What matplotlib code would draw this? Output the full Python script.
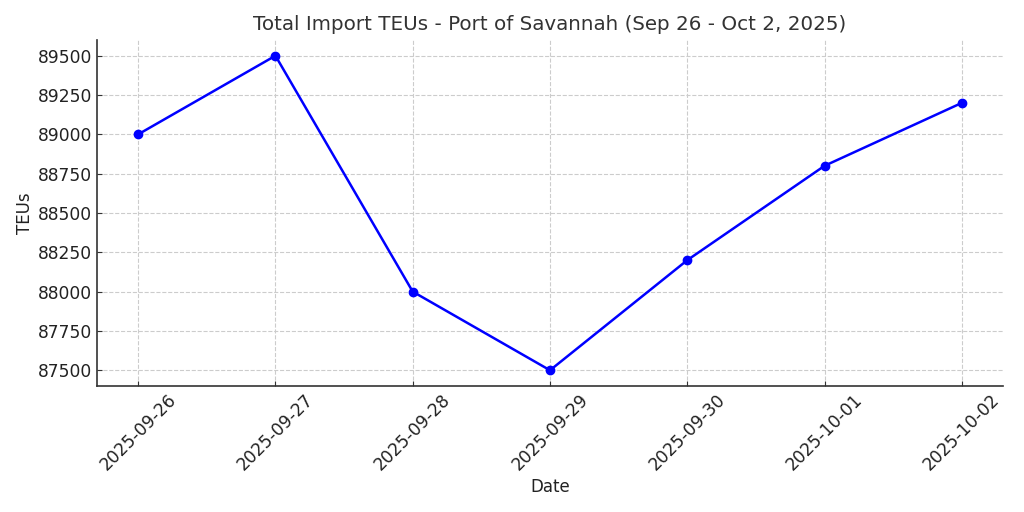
import matplotlib
matplotlib.use("Agg")
import matplotlib.pyplot as plt

# Datos
dates = ["2025-09-26", "2025-09-27", "2025-09-28", "2025-09-29",
         "2025-09-30", "2025-10-01", "2025-10-02"]
teus = [89000, 89500, 88000, 87500, 88200, 88800, 89200]

fig = plt.figure(figsize=(10.24, 5.12), dpi=100)
ax = fig.add_subplot(111)
fig.subplots_adjust(left=0.0947, right=0.9795, top=0.9219, bottom=0.2461)

x = list(range(len(dates)))
ax.plot(x, teus, color="blue", marker="o", markersize=6, lw=1.8)

ax.set_xticks(x)
ax.set_xticklabels(dates, rotation=45)
ax.set_yticks([87500, 87750, 88000, 88250, 88500, 88750, 89000, 89250, 89500])

ax.set_title("Total Import TEUs - Port of Savannah (Sep 26 - Oct 2, 2025)",
             fontsize=14.3, color="#333333", pad=7)
ax.set_xlabel("Date", fontsize=12, color="#222222", labelpad=3)
ax.set_ylabel("TEUs", fontsize=12, color="#222222", labelpad=3)
ax.tick_params(axis="both", direction="in", labelsize=12.3, labelcolor="#222222",
               color="#333333")

ax.grid(True, linestyle="--", color="#cccccc", lw=0.8)
ax.spines["top"].set_visible(False)
ax.spines["right"].set_visible(False)
ax.spines["left"].set_color("#333333")
ax.spines["bottom"].set_color("#333333")
ax.spines["left"].set_linewidth(1.2)
ax.spines["bottom"].set_linewidth(1.2)

plt.savefig("out.png", dpi=100)
